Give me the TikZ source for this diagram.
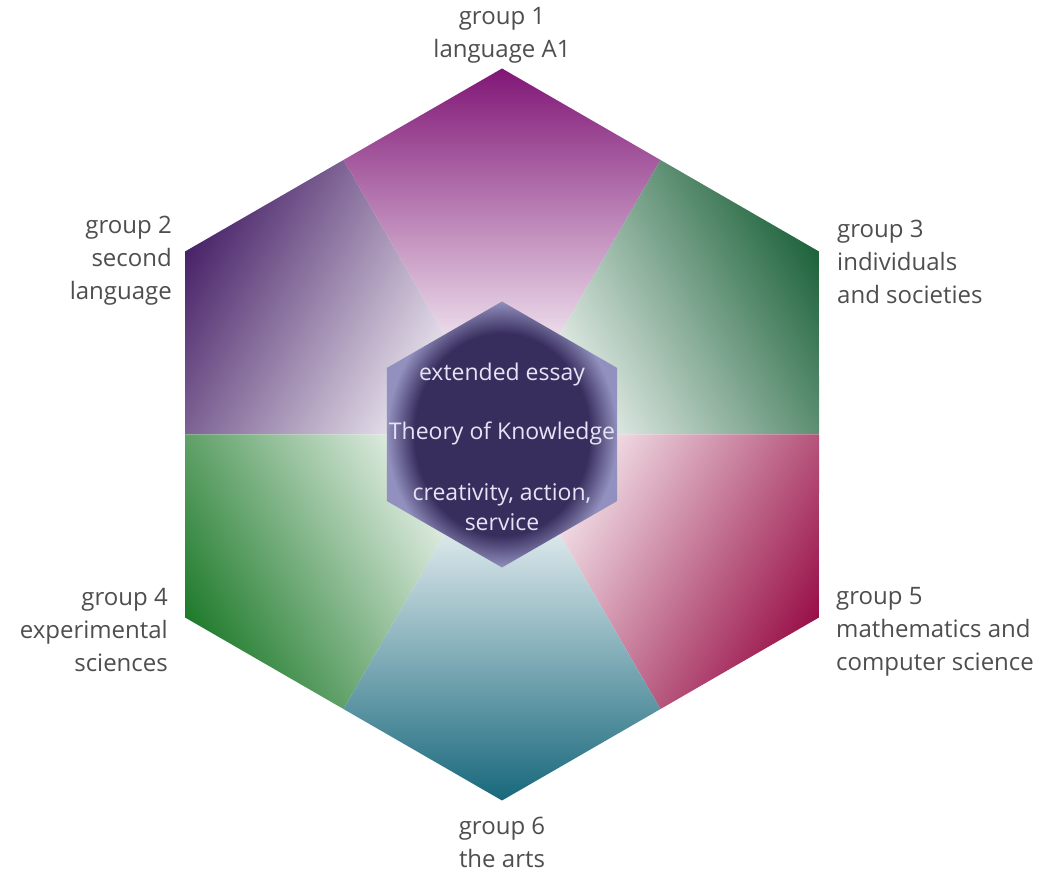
\documentclass[tikz,border=0pt]{standalone}
\usepackage{fontspec}
\setmainfont{Open Sans}
\usetikzlibrary{positioning}

\definecolor{gone}{RGB}{128,22,118}
\definecolor{gonemid}{RGB}{170,96,162}
\definecolor{gtwo}{RGB}{72,34,104}
\definecolor{gtwomid}{RGB}{136,110,170}
\definecolor{gthree}{RGB}{28,98,58}
\definecolor{gthreemid}{RGB}{96,160,126}
\definecolor{gfour}{RGB}{30,122,42}
\definecolor{gfourmid}{RGB}{118,172,100}
\definecolor{gfive}{RGB}{152,14,70}
\definecolor{gfivemid}{RGB}{196,96,130}
\definecolor{gsix}{RGB}{24,104,124}
\definecolor{gsixmid}{RGB}{108,170,198}
\definecolor{tokdark}{RGB}{56,46,94}
\definecolor{tokrim}{RGB}{146,144,190}
\definecolor{labelgray}{RGB}{78,78,78}
\definecolor{corewhite}{RGB}{230,228,244}
\pgfdeclareradialshading{tokhex}{\pgfpoint{0bp}{0bp}}{color(0bp)=(tokdark);color(19bp)=(tokdark);color(25bp)=(tokrim);color(50bp)=(tokrim)}

\begin{document}
\begin{tikzpicture}[x=1pt,y=1pt,
    grouplabel/.style={text=labelgray,inner sep=0pt,font=\fontsize{24}{33}\selectfont},
    coretext/.style={text=corewhite,inner sep=0pt,align=center,font=\fontsize{23}{30}\selectfont}]
    \useasboundingbox (0,0) rectangle (1047,873);
    \coordinate (ctr) at (502,438.5);

    % six subject groups
    \foreach \ang/\col in {90/gone,150/gtwo,30/gthree,210/gfour,330/gfive,270/gsix}{
        \begin{scope}[transform canvas={shift={(ctr)},rotate=\ang}]
            \clip (0,0) -- (-30:317) -- (0:366) -- (30:317) -- cycle;
            \shade[left color=white,middle color={\col mid},right color=\col] (50,-370) rectangle (366,370);
        \end{scope}
    }

    % core
    \begin{scope}[shift={(ctr)}]
        \shade[shading=tokhex] (90:133) \foreach \a in {150,210,270,330,390}{ -- (\a:133)} -- cycle;
    \end{scope}
    \node[coretext] (essay) at (502,498) {extended essay};
    \node[coretext] (tok)   at (502,440) {Theory of Knowledge};
    \node[coretext] (cas)   at (502,366) {creativity, action,\\service};

    \node[grouplabel,align=center]           (grp1) at (502,838) {group 1\\language A1};
    \node[grouplabel,align=right,anchor=east] (grp2) at (172,612) {group 2\\second\\language};
    \node[grouplabel,align=left,anchor=west]  (grp3) at (837,611) {group 3\\individuals\\and societies};
    \node[grouplabel,align=right,anchor=east] (grp4) at (168,243) {group 4\\experimental\\sciences};
    \node[grouplabel,align=left,anchor=west]  (grp5) at (836,241) {group 5\\mathematics and\\computer science};
    \node[grouplabel,align=center]           (grp6) at (502,31)  {group 6\\the arts};
\end{tikzpicture}
\end{document}
